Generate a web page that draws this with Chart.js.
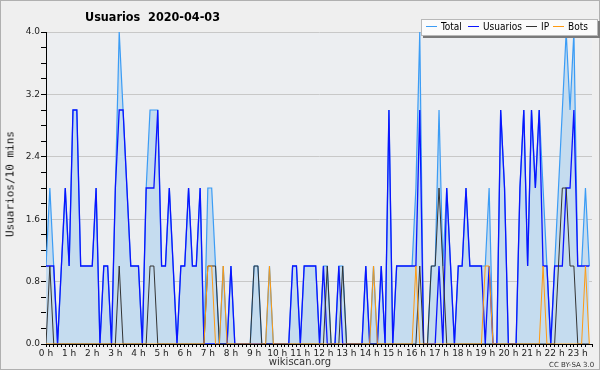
<!DOCTYPE html>
<html>
<head>
<meta charset="utf-8">
<title>Usuarios 2020-04-03</title>
<script src="https://cdn.jsdelivr.net/npm/chart.js@4.4.1/dist/chart.umd.min.js"></script>
<style>
    html, body { margin: 0; padding: 0; background: #efefef; }
    #wrap { position: relative; width: 600px; height: 370px; overflow: hidden; background: #efefef; }
    #chart { position: absolute; left: 0; top: 0; }
    .txt { position: absolute; white-space: pre; color: #000; font-family: "DejaVu Sans", sans-serif; }
    #title { left: 85px; top: 9px; font-size: 12.5px; font-weight: bold; font-stretch: condensed; }
    #ylabel { left: 10px; top: 184px; font-family: "DejaVu Sans Mono", monospace; font-size: 11px; color: #111;
              transform: translate(-50%, -50%) rotate(-90deg); }
    #legend { left: 421px; top: 19px; width: 175px; height: 15px; background: #fbfbfb;
              border: 1px solid #b8b8b8; box-shadow: 2px 2px 0 #7a7a7a; font-size: 10px; font-stretch: condensed; }
    #legend span.item { position: absolute; top: 1px; }
    #legend i { display: inline-block; width: 11px; height: 0; border-top: 1px solid; vertical-align: middle; margin-right: 4px; position: relative; top: -1px; }
    #site { left: 0; width: 600px; top: 356px; text-align: center; font-size: 10px; color: #333; }
    #lic { left: 549px; top: 361px; font-size: 7px; color: #333; }
</style>
</head>
<body>
<div id="wrap">
    <canvas id="chart" width="600" height="370"></canvas>
    <div class="txt" id="title">Usuarios  2020-04-03</div>
    <div class="txt" id="ylabel">Usuarios/10 mins</div>
    <div class="txt" id="legend"></div>
    <div class="txt" id="site">wikiscan.org</div>
    <div class="txt" id="lic">CC BY-SA 3.0</div>
</div>
<script>
// 10 minute slots, 00:00 to 23:30
var hourLabels = ['0 h', '1 h', '2 h', '3 h', '4 h', '5 h', '6 h', '7 h', '8 h', '9 h', '10 h', '11 h',
    '12 h', '13 h', '14 h', '15 h', '16 h', '17 h', '18 h', '19 h', '20 h', '21 h', '22 h', '23 h'];

var total = [
    1, 2, 1, 0, 1, 2, 1, 3, 3, 1,  1, 1, 1, 2, 0, 1, 1, 0, 2, 4,
    3, 2, 1, 1, 1, 0, 2, 3, 3, 3,  1, 1, 2, 1, 0, 1, 1, 2, 1, 1,
    2, 0, 2, 2, 1, 0, 1, 0, 1, 0,  0, 0, 0, 0, 1, 1, 0, 0, 1, 0,
    0, 0, 0, 0, 1, 1, 0, 1, 1, 1,  1, 0, 1, 1, 0, 0, 1, 1, 0, 0,
    0, 0, 0, 1, 0, 1, 0, 1, 0, 3,  0, 1, 1, 1, 1, 1, 2, 4, 0, 0,
    1, 1, 3, 1, 2, 1, 0, 1, 1, 2,  1, 1, 1, 1, 1, 2, 0, 0, 3, 2,
    0, 0, 0, 2, 3, 1, 3, 2, 3, 2,  1, 0, 1, 2, 3, 4, 3, 4, 1, 1,
    2, 1
];
var usuarios = [
    1, 1, 1, 0, 1, 2, 1, 3, 3, 1,  1, 1, 1, 2, 0, 1, 1, 0, 2, 3,
    3, 2, 1, 1, 1, 0, 2, 2, 2, 3,  1, 1, 2, 1, 0, 1, 1, 2, 1, 1,
    2, 0, 0, 0, 0, 0, 0, 0, 1, 0,  0, 0, 0, 0, 0, 0, 0, 0, 0, 0,
    0, 0, 0, 0, 1, 1, 0, 1, 1, 1,  1, 0, 1, 0, 0, 0, 1, 0, 0, 0,
    0, 0, 0, 1, 0, 0, 0, 1, 0, 3,  0, 1, 1, 1, 1, 1, 1, 3, 0, 0,
    0, 0, 1, 0, 2, 1, 0, 1, 1, 2,  1, 1, 1, 1, 0, 1, 0, 0, 3, 2,
    0, 0, 0, 2, 3, 1, 3, 2, 3, 1,  1, 0, 1, 1, 1, 2, 2, 3, 1, 1,
    1, 1
];
var ip = [
    0, 1, 0, 0, 0, 0, 0, 0, 0, 0,  0, 0, 0, 0, 0, 0, 0, 0, 0, 1,
    0, 0, 0, 0, 0, 0, 0, 1, 1, 0,  0, 0, 0, 0, 0, 0, 0, 0, 0, 0,
    0, 0, 1, 1, 1, 0, 0, 0, 0, 0,  0, 0, 0, 0, 1, 1, 0, 0, 0, 0,
    0, 0, 0, 0, 0, 0, 0, 0, 0, 0,  0, 0, 0, 1, 0, 0, 0, 1, 0, 0,
    0, 0, 0, 0, 0, 0, 0, 0, 0, 0,  0, 0, 0, 0, 0, 0, 0, 1, 0, 0,
    1, 1, 2, 1, 0, 0, 0, 0, 0, 0,  0, 0, 0, 0, 0, 0, 0, 0, 0, 0,
    0, 0, 0, 0, 0, 0, 0, 0, 0, 0,  0, 0, 0, 1, 2, 2, 1, 1, 0, 0,
    0, 0
];
var bots = [
    0, 0, 0, 0, 0, 0, 0, 0, 0, 0,  0, 0, 0, 0, 0, 0, 0, 0, 0, 0,
    0, 0, 0, 0, 0, 0, 0, 0, 0, 0,  0, 0, 0, 0, 0, 0, 0, 0, 0, 0,
    0, 0, 1, 1, 0, 0, 1, 0, 0, 0,  0, 0, 0, 0, 0, 0, 0, 0, 1, 0,
    0, 0, 0, 0, 0, 0, 0, 0, 0, 0,  0, 0, 0, 0, 0, 0, 0, 0, 0, 0,
    0, 0, 0, 0, 0, 1, 0, 0, 0, 0,  0, 0, 0, 0, 0, 0, 1, 0, 0, 0,
    0, 0, 0, 0, 0, 0, 0, 0, 0, 0,  0, 0, 0, 0, 1, 1, 0, 0, 0, 0,
    0, 0, 0, 0, 0, 0, 0, 0, 0, 1,  0, 0, 0, 0, 0, 0, 0, 0, 0, 0,
    1, 0
];

var seriesNames = ['Total', 'Usuarios', 'IP', 'Bots'];
var seriesColors = ['#3b9cf5', '#0a14ff', '#333333', '#ff9a10'];

function toPoints(values) {
    return values.map(function(v, i) { return { x: i, y: v }; });
}

// Legend (drawn as html, same order as reference)
function buildLegend() {
    var legend = document.getElementById('legend');
    var lefts = [4, 46, 104, 131];
    seriesNames.forEach(function(name, k) {
        var item = document.createElement('span');
        item.className = 'item';
        item.style.left = lefts[k] + 'px';
        item.innerHTML = '<i style="border-color:' + seriesColors[k] + '"></i>' + name;
        legend.appendChild(item);
    });
}

// Plot area background + outer frame
var backgroundPlugin = {
    id: 'plotBackground',
    beforeDraw: function(chart) {
        var ctx = chart.ctx;
        var a = chart.chartArea;
        ctx.save();
        ctx.fillStyle = '#efefef';
        ctx.fillRect(0, 0, chart.width, chart.height);
        ctx.fillStyle = '#eceef1';
        ctx.fillRect(a.left, a.top, a.right - a.left, a.bottom - a.top);
        ctx.strokeStyle = '#b0b0b0';
        ctx.lineWidth = 1;
        ctx.strokeRect(0.5, 0.5, chart.width - 1, chart.height - 1);
        ctx.restore();
    }
};

function isMajor(v) {
    var q = v / 0.8;
    return Math.abs(q - Math.round(q)) < 1e-6;
}

function initializeChart() {
    var ctx = document.getElementById('chart').getContext('2d');

    new Chart(ctx, {
        type: 'line',
        data: {
            datasets: [{
                label: 'Bots',
                data: toPoints(bots),
                borderColor: seriesColors[3],
                borderWidth: 1,
                fill: false,
                order: 1
            }, {
                label: 'IP',
                data: toPoints(ip),
                borderColor: seriesColors[2],
                borderWidth: 1,
                fill: false,
                order: 2
            }, {
                label: 'Usuarios',
                data: toPoints(usuarios),
                borderColor: seriesColors[1],
                borderWidth: 1.3,
                fill: false,
                order: 3
            }, {
                label: 'Total',
                data: toPoints(total),
                borderColor: seriesColors[0],
                backgroundColor: '#c5dcef',
                borderWidth: 1.2,
                fill: 'origin',
                order: 4
            }]
        },
        options: {
            responsive: false,
            animation: false,
            devicePixelRatio: 1,
            elements: {
                point: { radius: 0, hoverRadius: 0 },
                line: { tension: 0 }
            },
            layout: {
                padding: { top: 32, right: 8, left: 0, bottom: 0 }
            },
            plugins: {
                legend: { display: false },
                title: { display: false },
                tooltip: { enabled: false }
            },
            scales: {
                x: {
                    type: 'linear',
                    min: 0,
                    max: 141.7,
                    afterFit: function(scale) { scale.height = 26; },
                    border: { color: '#000', width: 1 },
                    grid: {
                        drawOnChartArea: false,
                        drawTicks: true,
                        tickLength: 3,
                        tickColor: '#000'
                    },
                    ticks: {
                        stepSize: 1,
                        autoSkip: false,
                        maxRotation: 0,
                        padding: 1,
                        color: '#222',
                        font: { family: 'DejaVu Sans', size: 9 },
                        callback: function(v) {
                            if (Math.abs(v - Math.round(v)) > 1e-6) return '';
                            var n = Math.round(v);
                            return n % 6 === 0 ? hourLabels[n / 6] : '';
                        }
                    }
                },
                y: {
                    min: 0,
                    max: 4,
                    afterFit: function(scale) { scale.width = 46; },
                    border: { color: '#000', width: 1 },
                    grid: {
                        drawTicks: true,
                        tickLength: 5,
                        tickColor: '#000',
                        color: function(c) {
                            return (c.tick && c.tick.value > 0 && isMajor(c.tick.value)) ? '#c8c8c8' : 'rgba(0,0,0,0)';
                        }
                    },
                    ticks: {
                        stepSize: 0.2,
                        autoSkip: false,
                        padding: 1,
                        color: '#222',
                        font: { family: 'DejaVu Sans', size: 9 },
                        callback: function(v) {
                            return isMajor(v) ? v.toFixed(1) : '';
                        }
                    }
                }
            }
        },
        plugins: [backgroundPlugin]
    });
}

document.addEventListener('DOMContentLoaded', function() {
    buildLegend();
    initializeChart();
});
</script>
</body>
</html>
